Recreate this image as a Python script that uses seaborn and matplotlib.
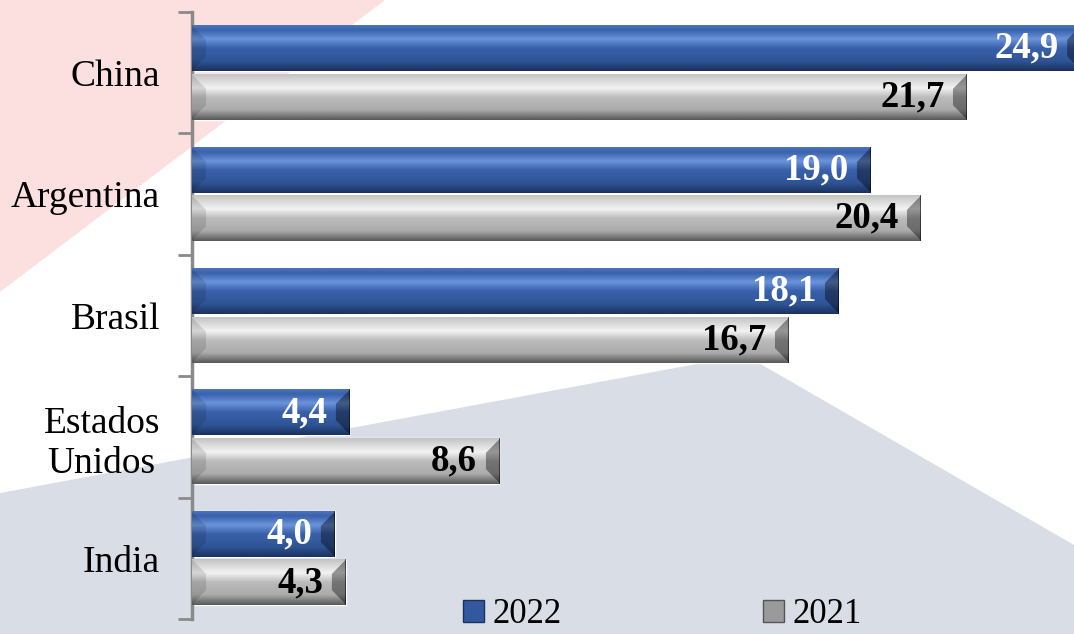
import numpy as np
import pandas as pd
import seaborn as sns
import matplotlib.pyplot as plt
from matplotlib.patches import Polygon, Patch
from matplotlib.colors import to_rgb

paises = ['China', 'Argentina', 'Brasil', 'Estados\nUnidos', 'India']
anios = ['2022', '2021']
valores_2022 = [24.9, 19.0, 18.1, 4.4, 4.0]
valores_2021 = [21.7, 20.4, 16.7, 8.6, 4.3]

azul = '#3259a0'
gris = '#b0b0b0'

df = pd.DataFrame({
    'pais': paises * 2,
    'anio': ['2022'] * len(paises) + ['2021'] * len(paises),
    'valor': valores_2022 + valores_2021,
})

sns.set_style('white')
plt.rcParams['font.family'] = ['Liberation Serif', 'DejaVu Serif']
plt.rcParams['text.color'] = 'black'
plt.rcParams['ytick.labelcolor'] = 'black'

fig = plt.figure(figsize=(10.74, 6.34), dpi=100)
fig.patch.set_facecolor('white')

# fondo decorativo (rosa arriba a la izquierda, gris azulado abajo)
W, H = 1074.0, 634.0
def px(pts):
    return [(x / W, 1 - y / H) for x, y in pts]

fig.add_artist(Polygon(px([(0, 0), (385, 0), (0, 292)]), closed=True,
                       transform=fig.transFigure, facecolor='#fcdfdf',
                       edgecolor='none', zorder=-10))
fig.add_artist(Polygon(px([(0, 493), (745, 355), (1074, 545), (1074, 634), (0, 634)]),
                       closed=True, transform=fig.transFigure, facecolor='#d9dee6',
                       edgecolor='none', zorder=-10))

ax = fig.add_axes([192 / W, 15 / H, 1 - 192 / W, (619 - 12) / H])
ax.set_facecolor('none')

sns.barplot(data=df, x='valor', y='pais', hue='anio', hue_order=anios,
            orient='h', palette=[azul, gris], width=0.8, gap=0.06,
            legend=False, ax=ax)

xlim = (0, 24.7)
ylim = (4.5, -0.5)

# efecto bisel sobre cada barra
perfiles = {
    '2022': ([0, 0.1, 0.3, 0.5, 0.78, 1.0],
             ['#4b72ba', '#3a62ad', '#6a94db', '#3a60aa', '#2f5597', '#1b325f']),
    '2021': ([0, 0.1, 0.3, 0.5, 0.78, 1.0],
             ['#c4c4c4', '#d4d4d4', '#f3f3f3', '#bcbcbc', '#acacac', '#5a5a5a']),
}

def bisel(w_px, h_px, anio):
    Hh = max(int(h_px), 4)
    Ww = max(int(w_px), 4)
    stops, cols = perfiles[anio]
    cols = np.array([to_rgb(c) for c in cols])
    t = np.linspace(0, 1, Hh)
    prof = np.stack([np.interp(t, stops, cols[:, k]) for k in range(3)], axis=1)
    img = np.repeat(prof[:, None, :], Ww, axis=1)
    yy, xx = np.mgrid[0:Hh, 0:Ww]
    b = min(14, Ww // 2)
    d_top = yy
    d_bot = Hh - 1 - yy
    d_left = xx
    d_right = Ww - 1 - xx
    right = (d_right < b) & (d_right < d_top) & (d_right < d_bot)
    left = (d_left < b) & (d_left < d_top) & (d_left < d_bot)
    img[right] *= 0.62
    img[left] *= 0.88
    img[:, -1] *= 0.5
    return np.clip(img, 0, 1)

barras = list(ax.patches)
ppu = (W - 192) / (xlim[1] - xlim[0])
ppy = (619 - 12) / 5.0
for i, p in enumerate(barras):
    anio = anios[i // len(paises)]
    x0, y0 = p.get_x(), p.get_y()
    w, h = p.get_width(), p.get_height()
    img = bisel(w * ppu, h * ppy, anio)
    ax.imshow(img, extent=(x0, x0 + w, y0 + h, y0), aspect='auto',
              interpolation='bilinear', zorder=3)
    color = 'white' if anio == '2022' else 'black'
    ax.text(x0 + w - 0.62, y0 + h / 2, f'{w:.1f}'.replace('.', ','),
            ha='right', va='center', fontsize=26.5, fontweight='bold',
            color=color, zorder=4)

ax.set_xlim(*xlim)
ax.set_ylim(*ylim)

ax.set_xlabel('')
ax.set_ylabel('')
ax.set_xticks([])
ax.set_yticks(range(len(paises)))
ax.set_yticklabels(paises, fontsize=27, color='black')
for lab in ax.get_yticklabels():
    lab.set_multialignment('center')
ax.tick_params(axis='y', which='major', length=0, pad=23)
ax.set_yticks(np.arange(-0.5, len(paises), 1.0), minor=True)
ax.tick_params(axis='y', which='minor', length=10, width=2, color='#8a8a8a',
               direction='out', left=True)

for s in ['top', 'right', 'bottom']:
    ax.spines[s].set_visible(False)
ax.spines['left'].set_color('#8a8a8a')
ax.spines['left'].set_linewidth(2.5)

handles = [Patch(facecolor=azul, edgecolor='#1b325f'),
           Patch(facecolor='#9a9a9a', edgecolor='#555555')]
leg = fig.legend(handles, anios, loc='center', bbox_to_anchor=(0.617, 0.03),
                 ncol=2, frameon=False, fontsize=25, handlelength=0.6,
                 handleheight=0.6, handletextpad=0.25, columnspacing=5.8,
                 borderpad=0.1)
for t in leg.get_texts():
    t.set_color('black')

fig.savefig('out.png', dpi=100)
